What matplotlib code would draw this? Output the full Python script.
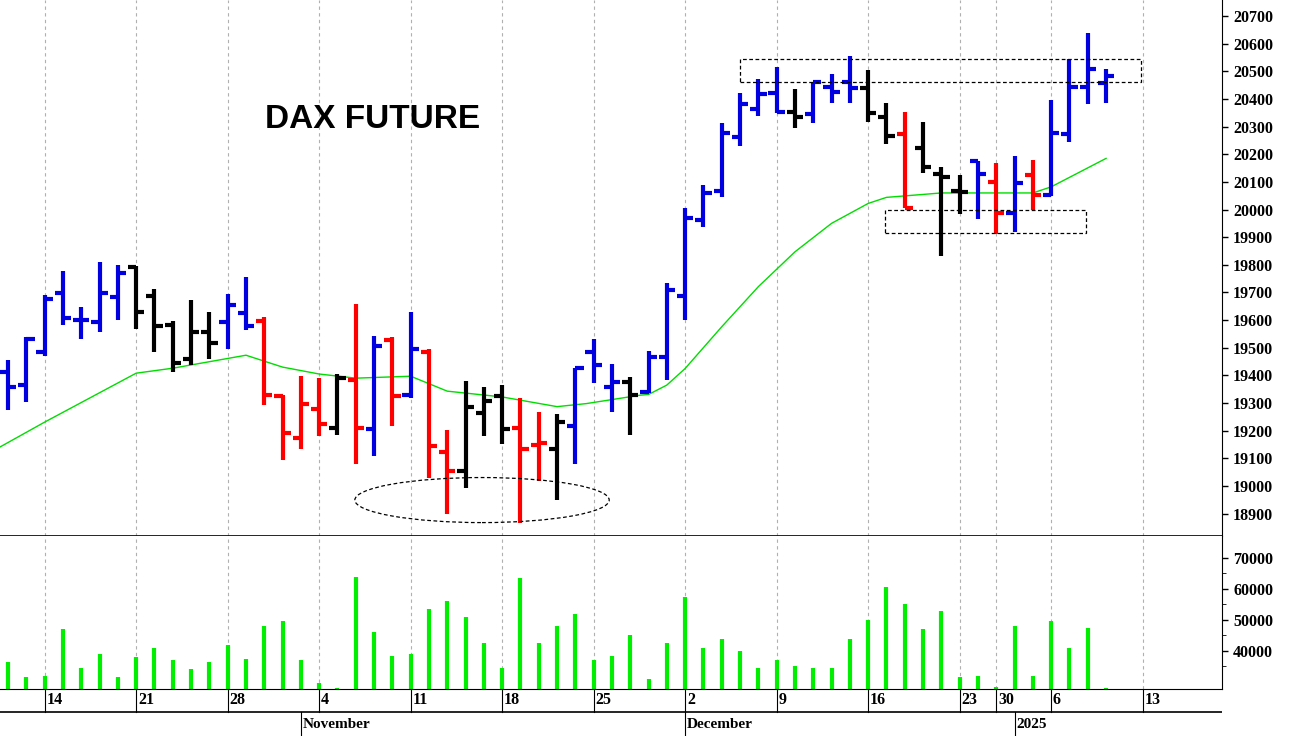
import matplotlib
matplotlib.use("Agg")
import matplotlib.pyplot as plt
from matplotlib.patches import Rectangle, Ellipse
import numpy as np

# ---- data (index = trading day, 0 = 10 Oct 2024, 60 = 9 Jan 2025) ----
opens = [19413,19365,19485,19699,19602,19594,19682,19793,19687,19582,19461,19558,19594,19627,19597,19326,19175,19280,19211,19383,
         19205,19527,19328,19485,19123,19055,19264,19326,19210,19150,19133,19217,19485,19359,19377,19340,19467,19687,19962,20068,
         20261,20362,20420,20354,20345,20442,20463,20438,20333,20272,20221,20128,20068,20176,20100,19988,20125,20052,20275,20444,20459]
highs = [19455,19539,19690,19778,19648,19811,19799,19795,19714,19597,19672,19630,19696,19757,19612,19328,19397,19392,19404,19660,
         19542,19540,19630,19497,19204,19380,19359,19365,19319,19268,19262,19428,19530,19443,19395,19489,19733,20004,20089,20312,
         20420,20471,20517,20435,20463,20490,20555,20505,20384,20354,20318,20155,20125,20176,20167,20193,20181,20398,20543,20637,20507]
lows = [19274,19304,19470,19582,19530,19558,19600,19567,19485,19413,19437,19461,19495,19564,19292,19093,19132,19180,19186,19081,
        19108,19216,19320,19029,18900,18993,19180,19153,18867,19017,18948,19078,19373,19268,19186,19335,19385,19600,19938,20046,
        20230,20338,20350,20294,20312,20386,20386,20318,20237,20004,20133,19832,19984,19966,19911,19920,20000,20049,20245,20381,20384]
closes = [19358,19533,19678,19606,19602,19699,19769,19629,19578,19445,19558,19518,19654,19578,19328,19192,19298,19224,19392,19210,
          19506,19326,19497,19144,19055,19284,19308,19205,19133,19156,19232,19425,19437,19377,19328,19468,19709,19968,20061,20278,
          20382,20418,20354,20333,20463,20426,20438,20351,20266,20006,20155,20119,20064,20127,19988,20097,20052,20278,20442,20507,20483]
bar_colors = list("BBBBBBBKKKKKBBRRRRKRBRBRRKKKRRKBBBKBBBBB" "BBBKBBBKKRKKKBRBRBBBB")
volumes = [36500,31500,32000,47000,34500,39000,31500,38000,41000,37000,34000,36500,42000,37500,48000,49500,37000,29500,28000,64000,
           46000,38500,39000,53500,56000,51000,42500,34500,63500,42500,48000,52000,37000,38500,45000,31000,42500,57500,41000,44000,
           40000,34500,37000,35000,34500,34500,44000,50000,60500,55000,47000,52800,31500,32000,28500,48000,32000,49500,41000,47500,28000]
ma_idx = [-0.44,2,7,9,13,15,17,19,22,24,27,30,31.6,34.5,35,36,37,39,41,43,45,47,48,51,56,57,60]
ma_vals = [19141,19231,19408,19426,19473,19430,19405,19390,19397,19343,19322,19287,19298,19328,19331,19365,19425,19576,19721,19847,
           19950,20022,20044,20060,20060,20082,20185]
day_tick_idx = [2,7,12,17,22,27,32,37,42,47,52,54,57,62]
day_tick_lbl = ["14","21","28","4","11","18","25","2","9","16","23","30","6","13"]
month_idx = [16,37,55]
month_lbl = ["November","December","2025"]
price_ticks = list(range(18900, 20701, 100))
vol_ticks = [40000,50000,60000,70000]

cmap = {"B": "#0000e0", "R": "#ff0000", "K": "#000000"}
W, H = 1294, 736
fig = plt.figure(figsize=(W/100, H/100), dpi=100)
xl = (-0.44, -0.44 + 1222/18.3)

def axrect(top, bottom):
    return [0, 1 - bottom/H, 1222/W, (bottom-top)/H]

ax = fig.add_axes(axrect(0, 536))
axv = fig.add_axes(axrect(536, 689))
axd = fig.add_axes(axrect(689, 736))

tickfont = dict(family="Liberation Serif", weight="bold", size=11.5)
for a in (ax, axv):
    a.set_xlim(*xl)
    for t in day_tick_idx:
        a.axvline(t, color="#b0b0b0", lw=0.8, ls=(0, (3, 3)), zorder=0)
    a.yaxis.tick_right()
    a.tick_params(axis="y", direction="out", length=4, width=1, pad=4)
    a.set_xticks([])
    for s in ("top", "left"):
        a.spines[s].set_visible(False)

idx = np.arange(len(opens))
cols = [cmap[c] for c in bar_colors]
ax.vlines(idx, lows, highs, colors=cols, lw=3, zorder=3)
ax.hlines(opens, idx - 0.45, idx, colors=cols, lw=3, zorder=3)
ax.hlines(closes, idx, idx + 0.45, colors=cols, lw=3, zorder=3)
ax.plot(ma_idx, ma_vals, color="#00dd00", lw=1, zorder=2)
ax.set_ylim(18819, 20758)
ax.set_yticks(price_ticks)
ax.set_yticklabels([str(p) for p in price_ticks], fontdict=tickfont)
ax.spines["bottom"].set_linewidth(1.2)

ax.add_patch(Rectangle((40, 20462), 61.9-40, 20545-20462, fill=False, ls=(0, (3, 2)), lw=0.9, ec="black", zorder=4))
ax.add_patch(Rectangle((47.9, 19915), 58.9-47.9, 19998-19915, fill=False, ls=(0, (3, 2)), lw=0.9, ec="black", zorder=4))
ax.add_patch(Ellipse((25.9, 18949), 13.9, 163, fill=False, ls=(0, (3, 2)), lw=0.9, ec="black", zorder=4))
ax.text(19.9, 20327, "DAX FUTURE", fontsize=24, fontweight="bold", family="Liberation Sans", ha="center", va="center")

axv.vlines(idx, 27700, volumes, colors="#00ee00", lw=3)
axv.set_ylim(27700, 77100)
axv.set_yticks(vol_ticks)
axv.set_yticklabels([str(v) for v in vol_ticks], fontdict=tickfont)
axv.set_yticks([35000, 45000, 55000, 65000], minor=True)
axv.tick_params(axis="y", which="minor", direction="out", length=3)

axd.set_xlim(*xl)
axd.set_ylim(0, 47)
axd.axis("off")
axd.axhline(24, color="black", lw=1.2)
for t, l in zip(day_tick_idx, day_tick_lbl):
    axd.plot([t, t], [24, 47], color="black", lw=0.8)
    axd.text(t + 0.1, 35.5, l, fontdict=tickfont, ha="left", va="center")
for t, l in zip(month_idx, month_lbl):
    axd.plot([t, t], [0, 24], color="black", lw=0.8)
    axd.text(t + 0.1, 11, l, fontdict=dict(family="Liberation Serif", weight="bold", size=11), ha="left", va="center")

fig.savefig("out.png", dpi=100)
